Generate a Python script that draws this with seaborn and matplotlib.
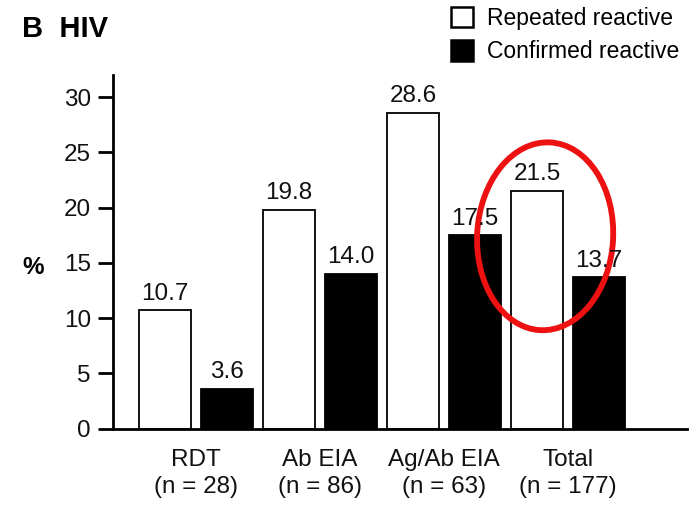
import numpy as np
import pandas as pd
import matplotlib
matplotlib.use("Agg")
import matplotlib.pyplot as plt
import matplotlib.transforms as mtransforms
from matplotlib.patches import Ellipse
import seaborn as sns

# ---------- data ----------
categories = ["RDT\n(n = 28)", "Ab EIA\n(n = 86)", "Ag/Ab EIA\n(n = 63)", "Total\n(n = 177)"]
repeated = [10.7, 19.8, 28.6, 21.5]
confirmed = [3.6, 14.0, 17.5, 13.7]
series = ["Repeated reactive", "Confirmed reactive"]
y_ticks = [0, 5, 10, 15, 20, 25, 30]

df = pd.DataFrame({
    "cat": categories * 2,
    "pct": repeated + confirmed,
    "series": [series[0]] * len(categories) + [series[1]] * len(categories),
})

sns.set_style("white")
plt.rcParams["font.family"] = ["Liberation Sans", "DejaVu Sans"]
plt.rcParams["text.color"] = "black"
plt.rcParams["xtick.color"] = "black"
plt.rcParams["ytick.color"] = "black"

fig = plt.figure(figsize=(6.89, 5.05), dpi=100)
ax = fig.add_axes([113 / 689, 76.5 / 505, 576 / 689, 353.5 / 505])

sns.barplot(data=df, x="cat", y="pct", hue="series", hue_order=series,
            palette=["white", "black"], saturation=1, edgecolor="black",
            linewidth=1.3, width=1.0, gap=0.16, ax=ax)

for container in ax.containers:
    ax.bar_label(container, fmt="%.1f", fontsize=17.5, padding=4, color="#111111")

ax.set_xlim(-0.67, -0.67 + 576 / 124)
ax.set_ylim(0, 32)
ax.set_yticks(y_ticks)
ax.set_xlabel("")
ax.set_ylabel("")
sns.despine(ax=ax)
for side in ["left", "bottom"]:
    ax.spines[side].set_linewidth(2)
    ax.spines[side].set_color("black")
ax.tick_params(axis="y", left=True, length=11, width=2, pad=5, labelsize=17.5)
ax.tick_params(axis="x", bottom=False, length=0, pad=15, labelsize=17.5)
for lab in ax.get_xticklabels():
    lab.set_linespacing(1.3)
for lab in ax.get_xticklabels() + ax.get_yticklabels():
    lab.set_color("#111111")

handles, labels = ax.get_legend_handles_labels()
ax.get_legend().remove()
leg = fig.legend(handles, labels, loc="upper left", bbox_to_anchor=(451 / 689, 1 - 7 / 505),
                 frameon=False, fontsize=16.5, handlelength=0.98, handleheight=0.98,
                 handletextpad=0.6, labelspacing=0.45, borderpad=0, borderaxespad=0)
for h in leg.legend_handles:
    h.set_edgecolor("black")
    h.set_linewidth(1.8)

fig.text(22 / 689, 1 - 29 / 505, "B  HIV", fontsize=21, fontweight="bold", va="center")
fig.text(22 / 689, 1 - 268 / 505, "%", fontsize=17.5, fontweight="bold", va="center")

# red highlight ring around the Total group
offset = mtransforms.ScaledTranslation(2.815, 17.4, ax.transData)
ring = Ellipse((0, 0), 1.36, 1.88, angle=-3, fill=False, edgecolor="#ee1111",
               linewidth=4.2, transform=fig.dpi_scale_trans + offset, clip_on=False)
ax.add_artist(ring)

fig.savefig("out.png", dpi=100)
